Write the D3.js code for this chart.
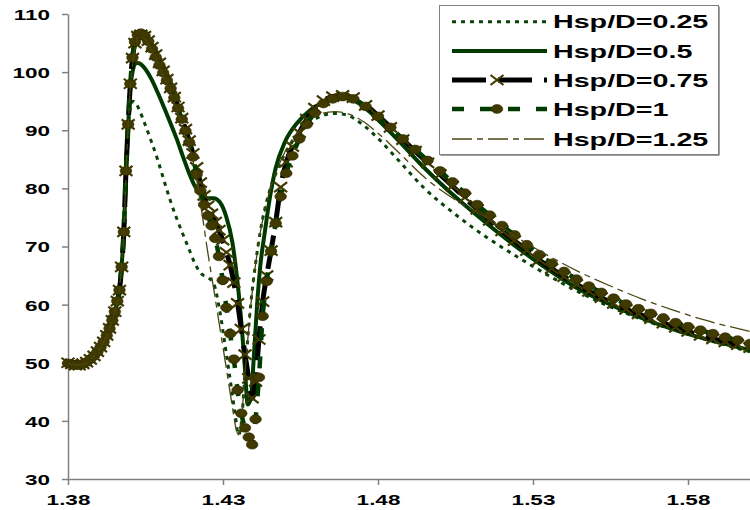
<!DOCTYPE html>
<html><head><meta charset="utf-8">
<script src="https://cdn.jsdelivr.net/npm/d3@7"></script>
<style>body{margin:0;background:#fff}svg{display:block}</style>
</head><body>
<svg id="c" width="750" height="510"></svg>
<script>
const seriesNames = ["Hsp/D=0.25","Hsp/D=0.5","Hsp/D=0.75","Hsp/D=1","Hsp/D=1.25"];
const xTicks = [1.38,1.43,1.48,1.53,1.58];
const yTicks = [30,40,50,60,70,80,90,100,110];

// x grid for the plain-line series (0.25, 0.5, 1.25)
const xLine = [1.380,1.384,1.388,1.391,1.393,1.395,1.3965,1.398,1.399,1.400,1.401,1.402,1.403,1.405,1.407,1.409,1.411,1.413,1.415,1.417,1.419,1.421,1.423,1.425,1.427,1.429,1.431,1.433,1.434,1.435,1.436,1.437,1.438,1.439,1.440,1.441,1.442,1.4435,1.445,1.447,1.450,1.454,1.458,1.462,1.466,1.470,1.475,1.480,1.487,1.495,1.505,1.515,1.525,1.535,1.545,1.555,1.565,1.575,1.585,1.600];
const y025 = [49.9,49.6,51.0,53.1,55.3,58.6,62.3,72.5,86.0,93.5,95.0,94.6,93.5,90.8,87.9,84.8,81.3,77.9,74.9,72.2,69.6,67.0,65.3,64.7,63.6,58.8,51.8,44.6,40.8,37.6,40.0,47.5,54.2,60.3,65.0,69.0,72.5,76.5,79.5,82.5,86.0,89.2,91.3,92.5,92.9,92.6,91.0,88.6,84.6,80.0,75.5,71.6,68.2,65.0,62.1,59.6,57.5,55.7,54.1,51.9];
const y05 = [49.9,49.6,51.0,53.1,55.3,58.6,62.3,72.5,86.0,96.5,100.5,101.6,101.5,100.5,98.7,96.4,93.9,91.3,88.6,85.6,82.7,80.3,78.9,78.3,78.3,77.6,75.2,70.8,67.0,62.3,56.5,49.5,42.8,44.0,51.5,60.0,66.5,72.5,78.0,83.5,88.0,91.3,93.4,94.7,95.4,95.5,94.2,91.8,88.0,83.5,78.5,74.0,69.8,66.0,62.6,60.0,57.7,55.8,54.2,52.2];
const y125 = [49.9,49.6,51.0,53.1,55.3,58.6,62.3,72.5,86.0,96.5,102.0,105.0,106.2,105.6,103.8,101.5,99.0,96.5,93.7,90.7,87.5,83.0,76.5,69.3,62.7,56.0,49.3,42.5,39.2,37.6,40.5,47.5,54.0,60.0,64.8,68.8,72.3,76.3,79.4,82.6,86.3,89.6,91.7,92.9,93.2,92.9,91.6,89.5,86.0,81.9,78.0,75.0,71.5,68.4,65.6,63.2,61.0,59.1,57.4,55.4];

// x grid for the marker series (0.75, 1)
const xMark = [1.3800,1.3812,1.3824,1.3836,1.3848,1.3860,1.3872,1.3884,1.3895,1.3905,1.3915,1.3925,1.3934,1.3943,1.3951,1.3959,1.3966,1.3973,1.3980,1.3987,1.3994,1.4001,1.4008,1.4016,1.4025,
 1.4035,1.4047,1.4059,1.4071,1.4083,1.4095,1.4107,1.4119,1.4131,1.4143,1.4155,1.4167,1.4179,1.4191,1.4203,1.4215,1.4227,1.4239,1.4251,1.4263,1.4275,1.4287,1.4299,1.4311,1.4323,1.4335,1.4347,1.4359,1.4371,1.4383,1.4394,
 1.4405,1.4416,1.4428,1.4441,1.4455,1.4470,1.4486,1.4504,1.4524,1.4546,1.4570,1.4596,1.4624,1.4654,1.4686,
 1.472,1.476,1.480,1.484,1.488,1.492,1.496,1.500,1.504,1.508,1.512,1.516,1.520,1.524,1.528,1.532,1.536,1.540,1.544,1.548,1.552,1.556,1.560,1.564,1.568,1.572,1.576,1.580,1.584,1.588,1.592,1.596,1.600];
const y075 = [50.0,49.8,49.6,49.6,49.8,50.1,50.6,51.2,51.9,52.7,53.6,54.7,55.9,57.3,58.8,60.6,62.5,66.5,72.5,83.0,91.0,98.0,102.4,105.0,106.2,
 106.4,106.2,105.4,104.3,103.0,101.6,100.2,98.8,97.3,95.7,94.0,92.1,90.2,88.2,86.0,83.6,81.0,78.8,77.0,75.6,74.2,72.8,71.1,69.0,66.8,63.8,60.2,55.8,51.4,47.3,43.9,
 46.8,54.0,60.5,65.0,69.3,74.2,80.2,84.5,87.2,89.6,91.9,93.8,95.1,95.8,96.0,
 95.6,94.3,92.5,90.5,88.4,86.4,84.4,82.4,80.4,78.4,76.4,74.5,72.7,71.0,69.3,67.7,66.2,64.8,63.5,62.3,61.2,60.2,59.2,58.4,57.6,56.8,56.1,55.4,54.7,54.1,53.6,53.1,52.6];
const y1 = [49.9,49.7,49.6,49.6,49.8,50.1,50.6,51.2,51.9,52.7,53.6,54.7,55.9,57.3,58.8,60.6,62.5,66.5,72.5,83.0,91.0,98.0,102.5,105.2,106.4,
 106.7,106.3,105.3,104.0,102.6,101.2,99.9,98.6,97.2,95.6,93.8,91.9,89.9,87.9,85.4,82.4,79.6,77.2,75.3,73.6,71.4,68.3,64.2,59.5,55.0,50.6,45.3,41.3,38.8,37.2,35.9,
 40.3,47.5,58.0,64.0,69.2,74.0,78.6,82.6,85.6,88.5,91.0,93.0,94.6,95.4,95.8,
 95.4,94.1,92.4,90.5,88.5,86.7,84.8,83.0,81.1,79.2,77.2,75.4,73.6,72.0,70.3,68.6,67.1,65.7,64.4,63.2,62.1,61.1,60.1,59.3,58.5,57.7,56.9,56.2,55.6,55.0,54.4,53.9,53.3];

const FONT = "'Liberation Sans', Arial, Helvetica, sans-serif";
const MARK = "#403a00";
const svg = d3.select("#c");
const x = d3.scaleLinear().domain([1.38,1.60]).range([68,750]);
const y = d3.scaleLinear().domain([30,110]).range([479,14]);

// axes
const gy = svg.append("g").attr("transform","translate(68,0)")
  .call(d3.axisLeft(y).tickValues(yTicks).tickSize(6).tickSizeOuter(0).tickFormat(d3.format("d")));
const gx = svg.append("g").attr("transform","translate(0,479)")
  .call(d3.axisBottom(x).tickValues(xTicks).tickSize(6).tickSizeOuter(0).tickFormat(d3.format(".2f")));
[gx,gy].forEach(g=>{
  g.select(".domain").attr("stroke","#808080").attr("stroke-width",1.5);
  g.selectAll(".tick line").attr("stroke","#808080").attr("stroke-width",1.5);
  g.selectAll(".tick text").attr("font-family",FONT).attr("font-weight","bold")
    .attr("font-size",15).attr("fill","#000");
});
gy.selectAll(".tick text").attr("x",0).attr("dy","0.36em").attr("transform","translate(-18,0) scale(1.5,1)");
gx.selectAll(".tick text").attr("y",0).attr("dy",0).attr("transform","translate(0,26) scale(1.5,1)");

const line = d3.line().x(d=>x(d[0])).y(d=>y(d[1])).curve(d3.curveMonotoneX);
const pts = (xs,ys)=>xs.map((v,i)=>[v,ys[i]]);

const styles = [
  {stroke:"#0a420a", w:3, dash:"4,5", marker:null},
  {stroke:"#003a00", w:4, dash:null, marker:null},
  {stroke:"#000000", w:5, dash:"34,12", marker:"x"},
  {stroke:"#003c00", w:4.5, dash:"12,16", marker:"o"},
  {stroke:"#4a4510", w:1.3, dash:"20,5,6,5", marker:null}
];
const data = [pts(xLine,y025), pts(xLine,y05), pts(xMark,y075), pts(xMark,y1), pts(xLine,y125)];

const plot = svg.append("g");
function drawMarker(g, type, px, py){
  if(type==="x"){
    g.append("path").attr("d",`M${px-6.5},${py-5}L${px+6.5},${py+5}M${px-6.5},${py+5}L${px+6.5},${py-5}`)
      .attr("stroke",MARK).attr("stroke-width",2.2).attr("fill","none");
  } else if(type==="o"){
    g.append("ellipse").attr("cx",px).attr("cy",py).attr("rx",5.8).attr("ry",4.4)
      .attr("fill",MARK).attr("stroke","#2e2a00").attr("stroke-width",0.6);
  }
}
data.forEach((d,i)=>{
  const s = styles[i];
  const g = plot.append("g");
  g.append("path").datum(d).attr("d",line).attr("fill","none")
    .attr("stroke",s.stroke).attr("stroke-width",s.w)
    .attr("stroke-dasharray",s.dash).attr("stroke-linejoin","round");
  if(s.marker) d.forEach(p=>drawMarker(g,s.marker,x(p[0]),y(p[1])));
});

// legend
const lg = svg.append("g");
lg.append("rect").attr("x",440.5).attr("y",6.5).attr("width",279).attr("height",149).attr("fill","#444");
lg.append("rect").attr("x",439.5).attr("y",5.5).attr("width",279).attr("height",149)
  .attr("fill","#fff").attr("stroke","#808080").attr("stroke-width",1);
const rows = [21.7,51,80,109,139];
seriesNames.forEach((n,i)=>{
  const s = styles[i], ry = rows[i];
  lg.append("line").attr("x1",452).attr("x2",547).attr("y1",ry).attr("y2",ry)
    .attr("stroke",s.stroke).attr("stroke-width",s.w).attr("stroke-dasharray",s.dash);
  if(s.marker) drawMarker(lg,s.marker,497,ry);
  lg.append("text").attr("transform",`translate(553,${ry+6.6}) scale(1.55,1)`)
    .attr("font-family",FONT).attr("font-weight","bold").attr("font-size",18.5)
    .attr("fill","#000").text(n);
});
</script>
</body></html>
